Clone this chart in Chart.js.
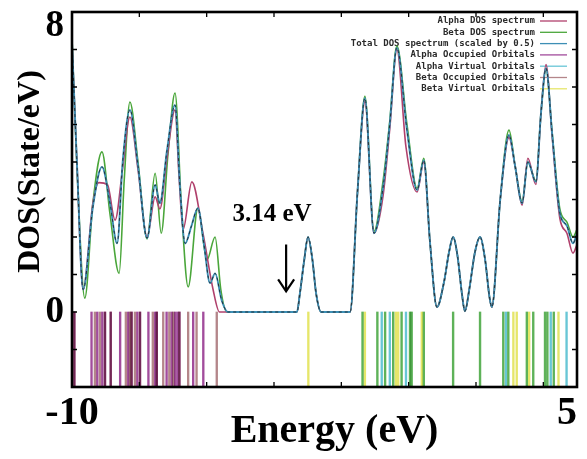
<!DOCTYPE html>
<html><head><meta charset="utf-8">
<script src="https://cdn.jsdelivr.net/npm/chart.js@4/dist/chart.umd.min.js"></script>
<style>html,body{margin:0;padding:0;background:#fff;}#wrap{width:587px;height:459px;position:relative;}</style>
</head><body><div id="wrap"><canvas id="c"></canvas></div>
<script>
// ---- data ----
const alphaE = [-10, -9.85, -9.67, -9.38, -9.20, -8.95, -8.72, -8.50, -8.28, -8.04, -7.77, -7.53, -7.39, -7.18, -6.94, -6.82, -6.70, -6.44, -6.11, -5.81, -5.62, -3.32, -3.23, -3.10, -2.99, -2.86, -2.75, -2.60, -1.74, -1.52, -1.30, -1.03, -0.76, -0.56, -0.35, -0.08, 0.25, 0.45, 0.63, 0.84, 1.05, 1.20, 1.32, 1.45, 1.58, 1.67, 1.80, 1.97, 2.12, 2.27, 2.40, 2.47, 2.72, 2.98, 3.16, 3.37, 3.54, 3.78, 3.93, 4.08, 4.26, 4.49, 4.70, 4.88, 5.0];
const alphaDOS = [7.2, 3.9, 0.6, 2.9, 3.45, 3.4, 2.45, 3.8, 5.2, 3.8, 2.0, 3.07, 2.75, 4.1, 5.39, 3.6, 2.2, 3.47, 2.1, 0.6, 0, 0, 0.5, 1.4, 2.0, 1.4, 0.5, 0, 0, 3.2, 5.6, 2.1, 3.1, 4.9, 7.0, 4.4, 3.2, 4.0, 1.9, 0.13, 0.8, 1.6, 2.0, 1.5, 0.5, 0.02, 0.6, 1.6, 2.0, 1.4, 0.4, 0.13, 3.0, 4.65, 3.9, 2.85, 4.1, 3.4, 5.3, 6.6, 4.7, 2.5, 2.1, 1.57, 1.8];

const betaE = [-10, -9.85, -9.62, -9.38, -9.11, -8.87, -8.60, -8.45, -8.28, -8.04, -7.77, -7.53, -7.35, -7.15, -6.94, -6.75, -6.55, -6.26, -5.99, -5.75, -5.58, -5.40, -3.32, -3.23, -3.10, -2.99, -2.86, -2.75, -2.60, -1.74, -1.52, -1.30, -1.03, -0.76, -0.56, -0.35, -0.05, 0.25, 0.45, 0.63, 0.84, 1.05, 1.20, 1.32, 1.45, 1.58, 1.67, 1.80, 1.97, 2.12, 2.27, 2.40, 2.47, 2.72, 2.98, 3.16, 3.37, 3.54, 3.78, 3.93, 4.08, 4.26, 4.49, 4.70, 4.88, 5.0];
const betaDOS = [7.3, 3.8, 0.37, 2.9, 4.27, 2.6, 1.03, 3.5, 5.6, 4.0, 1.95, 3.7, 2.1, 4.2, 5.84, 2.8, 0.67, 2.77, 1.39, 2.0, 0.6, 0, 0, 0.5, 1.4, 2.0, 1.4, 0.5, 0, 0, 3.2, 5.75, 2.15, 3.5, 5.1, 7.1, 5.0, 3.3, 4.1, 1.9, 0.13, 0.8, 1.6, 2.0, 1.5, 0.5, 0.02, 0.6, 1.6, 2.0, 1.4, 0.4, 0.13, 3.0, 4.85, 3.9, 2.95, 4.0, 3.5, 5.3, 6.5, 4.8, 2.75, 2.4, 2.0, 2.2];

const totalE = [-10, -9.85, -9.67, -9.38, -9.11, -8.87, -8.66, -8.49, -8.28, -8.04, -7.77, -7.53, -7.39, -7.18, -6.94, -6.79, -6.64, -6.45, -6.26, -6.08, -5.90, -5.75, -5.55, -5.37, -3.32, -3.23, -3.10, -2.99, -2.86, -2.75, -2.60, -1.74, -1.52, -1.30, -1.03, -0.76, -0.56, -0.35, -0.05, 0.25, 0.45, 0.63, 0.84, 1.05, 1.20, 1.32, 1.45, 1.58, 1.67, 1.80, 1.97, 2.12, 2.27, 2.40, 2.47, 2.72, 2.98, 3.16, 3.37, 3.54, 3.78, 3.93, 4.08, 4.26, 4.49, 4.70, 4.88, 5.0];
const totalDOS = [7.2, 3.9, 0.6, 2.8, 3.87, 2.9, 1.83, 4.05, 5.39, 3.9, 1.97, 3.39, 2.9, 4.3, 5.52, 3.3, 1.83, 2.3, 2.77, 1.8, 0.77, 1.03, 0.3, 0, 0, 0.5, 1.4, 2.0, 1.4, 0.5, 0, 0, 3.2, 5.7, 2.1, 3.33, 5.03, 7.05, 4.85, 3.25, 4.05, 1.9, 0.13, 0.8, 1.6, 2.0, 1.5, 0.5, 0.02, 0.6, 1.6, 2.0, 1.4, 0.4, 0.13, 3.0, 4.72, 3.9, 2.9, 4.0, 3.47, 5.3, 6.5, 4.77, 2.64, 2.3, 1.83, 2.1];

const alphaOccupied = [-9.93, -9.42, -9.25, -9.10, -9.02, -8.85, -8.57, -8.33, -8.23, -8.06, -7.98, -7.73, -7.53, -7.48, -7.19, -7.04, -6.94, -6.87, -6.81, -6.40, -6.10];
const betaOccupied = [-9.93, -9.32, -9.17, -9.02, -8.85, -8.40, -8.28, -8.23, -8.13, -7.98, -7.60, -7.48, -7.29, -7.11, -6.99, -6.81, -6.55, -6.30, -5.70];
const alphaVirtual = [-1.37, -0.93, -0.80, -0.70, -0.56, -0.46, -0.21, -0.08, 0.04, 0.09, 0.45, 1.32, 2.12, 2.81, 2.89, 2.96, 3.51, 3.70, 4.05, 4.12, 4.22, 4.31, 4.69];
const betaVirtual = [-2.98, -1.37, -1.30, -0.93, -0.70, -0.46, -0.38, -0.31, -0.21, 0.04, 0.09, 0.39, 0.45, 1.32, 2.12, 2.81, 2.96, 3.11, 3.21, 3.51, 3.58, 3.70, 4.05, 4.12, 4.31, 4.45];
const orbitalSpan = [-2, 0];

const seriesLabels = ['Alpha DOS spectrum', 'Beta DOS spectrum', 'Total DOS spectrum (scaled by 0.5)', 'Alpha Occupied Orbitals', 'Alpha Virtual Orbitals', 'Beta Occupied Orbitals', 'Beta Virtual Orbitals'];
const xTickValues = [-10, -8, -6, -4, -2, 0, 2, 4, 5];
const xLabelValues = [-10, 5];
const xLabelTexts = ['-10', '5'];
const yLabelValues = [0, 8];
const yLabelTexts = ['0', '8'];
const gapText = '3.14 eV';
const xTitle = 'Energy (eV)';
const yTitle = 'DOS(State/eV)';

const curve = (xs, ys) => xs.map((x, i) => ({x: x, y: ys[i]}));
const sticks = (xs) => xs.map(x => ({x: x, y: orbitalSpan.slice()}));

const SERIF = '"Liberation Serif", "Times New Roman", serif';

const lineDS = (label, xs, ys, color, order) => ({
  type: 'line', label, data: curve(xs, ys), borderColor: color, backgroundColor: color,
  borderWidth: 1.6, pointRadius: 0, fill: false, cubicInterpolationMode: 'monotone', order
});
const barDS = (label, xs, color, order) => ({
  type: 'bar', label, data: sticks(xs), backgroundColor: color, borderColor: color,
  borderWidth: 0, barThickness: 1.7, grouped: false, order
});

const datasets = [
  lineDS(seriesLabels[0], alphaE, alphaDOS, '#b0406c', 3),
  lineDS(seriesLabels[1], betaE, betaDOS, '#4aa63a', 4),
  lineDS(seriesLabels[2], totalE, totalDOS, '#3d8fb5', 2),
  barDS(seriesLabels[3], alphaOccupied, '#a24c9c', 5),
  barDS(seriesLabels[4], alphaVirtual, '#68c6d6', 5),
  barDS(seriesLabels[5], betaOccupied, '#b4868a', 6),
  barDS(seriesLabels[6], betaVirtual, '#e6e66a', 6),
];
datasets[2].borderWidth = 1.9;
// dark dashed trace drawn on the total spectrum (no legend entry)
const overlay = lineDS('', totalE, totalDOS, '#23323a', 1);
overlay.borderWidth = 1.0; overlay.borderDash = [3, 3]; overlay.hideInLegend = true;
datasets.push(overlay);

const bgPlugin = { id: 'bg', beforeDraw(chart) {
  const c = chart.ctx; c.save(); c.fillStyle = '#fff'; c.fillRect(0, 0, chart.width, chart.height); c.restore();
}};

const legendPlugin = { id: 'gpLegend', beforeDatasetsDraw(chart) {
  const c = chart.ctx; c.save();
  c.font = 'bold 9px "DejaVu Sans Mono", monospace';
  c.textAlign = 'right'; c.textBaseline = 'middle';
  let row = 0;
  chart.data.datasets.forEach(ds => {
    if (ds.hideInLegend) return;
    const y = 21 + row * 11.3;
    c.fillStyle = '#2a2a2a';
    c.fillText(ds.label, 535, y);
    c.strokeStyle = ds.type === 'bar' ? ds.backgroundColor : ds.borderColor;
    c.lineWidth = 1.3;
    c.beginPath(); c.moveTo(540, y); c.lineTo(567, y); c.stroke();
    row++;
  });
  c.restore();
}};

// overlapping orbital sticks blend (multiply) like the original's mixed colours
const blendPlugin = { id: 'blend',
  beforeDatasetDraw(chart, args) { chart.ctx.save(); if (args.meta.type === 'bar') chart.ctx.globalCompositeOperation = 'multiply'; },
  afterDatasetDraw(chart) { chart.ctx.restore(); }
};

const framePlugin = { id: 'frame', afterDraw(chart, args, opts) {
  const c = chart.ctx, a = chart.chartArea, xs = chart.scales.x, ys = chart.scales.y;
  c.save();
  c.strokeStyle = '#000'; c.lineWidth = 1.3;
  xs.ticks.forEach(t => {
    const p = xs.getPixelForValue(t.value);
    if (p <= a.left + 1 || p >= a.right - 1) return;
    c.beginPath(); c.moveTo(p, a.bottom); c.lineTo(p, a.bottom - 5); c.moveTo(p, a.top); c.lineTo(p, a.top + 5); c.stroke();
  });
  ys.ticks.forEach(t => {
    const p = ys.getPixelForValue(t.value);
    if (p <= a.top + 1 || p >= a.bottom - 1) return;
    c.beginPath(); c.moveTo(a.left, p); c.lineTo(a.left + 5, p); c.moveTo(a.right, p); c.lineTo(a.right - 5, p); c.stroke();
  });
  c.lineWidth = 2.6;
  c.strokeRect(a.left, a.top, a.right - a.left, a.bottom - a.top);
  // gap annotation
  const n = opts;
  c.fillStyle = '#000';
  c.font = 'bold 25px ' + SERIF;
  c.textAlign = 'center'; c.textBaseline = 'middle';
  c.fillText(n.text, xs.getPixelForValue(n.textX), ys.getPixelForValue(n.textY));
  const ax = xs.getPixelForValue(n.arrowX), y1 = ys.getPixelForValue(n.arrowFrom), y2 = ys.getPixelForValue(n.arrowTo);
  c.lineWidth = 2.2;
  c.beginPath(); c.moveTo(ax, y1); c.lineTo(ax, y2);
  c.moveTo(ax - 8, y2 - 12); c.lineTo(ax, y2); c.lineTo(ax + 8, y2 - 12); c.stroke();
  c.restore();
}};

new Chart(document.getElementById('c'), {
  type: 'line',
  data: { datasets },
  plugins: [bgPlugin, legendPlugin, blendPlugin, framePlugin],
  options: {
    responsive: true, maintainAspectRatio: false, animation: false, events: [],
    layout: { padding: { top: 12, right: 10, bottom: 0, left: 0 } },
    plugins: {
      legend: { display: false }, tooltip: { enabled: false },
      frame: { text: gapText, textX: -4.06, textY: 2.61, arrowX: -3.64, arrowFrom: 1.8, arrowTo: 0.55 }
    },
    scales: {
      x: {
        type: 'linear', min: -10, max: 5, offset: false,
        afterBuildTicks: s => { s.ticks = xTickValues.map(v => ({ value: v })); },
        afterFit: s => { s.height = 72; s.paddingLeft = 0; s.paddingRight = 0; },
        grid: { display: false, drawTicks: false },
        border: { display: false },
        ticks: {
          autoSkip: false, maxRotation: 0, padding: 3, color: '#000',
          font: { family: SERIF, size: 40, weight: 'bold', lineHeight: 1.2 },
          callback: (v) => { const i = xLabelValues.indexOf(v); if (i < 0) return ''; return v === 5 ? xLabelTexts[i] + '\u2002' : xLabelTexts[i]; }
        },
        title: { display: true, text: '  ' + xTitle, color: '#000', padding: { top: 0, bottom: 3 },
          font: { family: SERIF, size: 40, weight: 'bold', lineHeight: 1.2 } }
      },
      y: {
        type: 'linear', min: -2, max: 8,
        afterFit: s => { s.width = 72; s.paddingTop = 0; s.paddingBottom = 0; },
        grid: { display: false, drawTicks: false },
        border: { display: false },
        ticks: {
          stepSize: 1, autoSkip: false, padding: 8, color: '#000',
          font: { family: SERIF, size: 37, weight: 'bold', lineHeight: 0.8 },
          callback: (v) => { const i = yLabelValues.indexOf(v); if (i < 0) return ''; return v === 8 ? ['', yLabelTexts[i]] : yLabelTexts[i]; }
        },
        title: { display: true, text: '       ' + yTitle, color: '#000', padding: { top: 12, bottom: 0 },
          font: { family: SERIF, size: 32, weight: 'bold', lineHeight: 1.2 } }
      }
    }
  }
});
</script></body></html>
